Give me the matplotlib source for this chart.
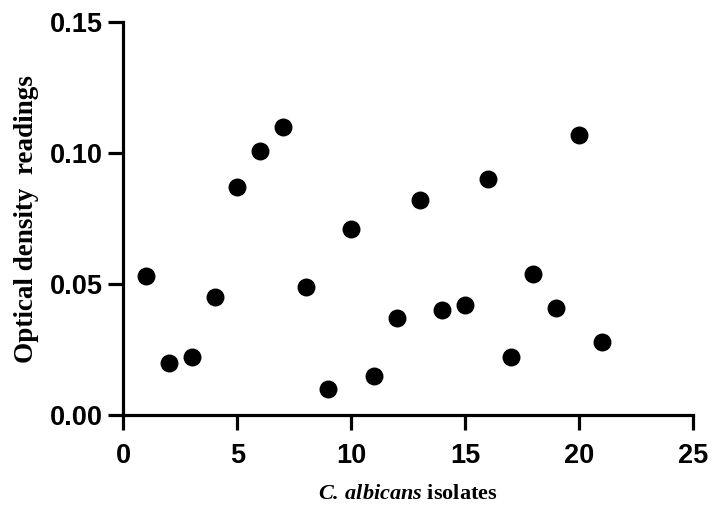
import matplotlib.pyplot as plt

plt.rcParams['mathtext.fontset'] = 'custom'
plt.rcParams['mathtext.rm'] = 'Liberation Serif:bold'
plt.rcParams['mathtext.bf'] = 'Liberation Serif:bold'
plt.rcParams['mathtext.it'] = 'Liberation Serif:italic:bold'
plt.rcParams['mathtext.bfit'] = 'Liberation Serif:italic:bold'

isolates = list(range(1, 22))
od_readings = [0.053, 0.020, 0.022, 0.045, 0.087, 0.101, 0.110, 0.049, 0.010, 0.071,
               0.015, 0.037, 0.082, 0.040, 0.042, 0.090, 0.022, 0.054, 0.041, 0.107, 0.028]

x_ticks = [0, 5, 10, 15, 20, 25]
y_ticks = [0.00, 0.05, 0.10, 0.15]

fig = plt.figure(figsize=(7.18, 5.15), dpi=100)
ax = fig.add_axes([0.172, 0.194, 0.793, 0.763])

ax.scatter(isolates, od_readings, s=142, color='black', zorder=3, clip_on=False)

ax.set_xlim(0, 25)
ax.set_ylim(0, 0.15)
ax.set_xticks(x_ticks)
ax.set_yticks(y_ticks)
ax.set_yticklabels([f"{v:.2f}" for v in y_ticks])

for side in ['top', 'right']:
    ax.spines[side].set_visible(False)
for side in ['left', 'bottom']:
    ax.spines[side].set_linewidth(2.3)

ax.tick_params(axis='both', width=2.3, length=11, labelsize=19.5)
ax.tick_params(axis='x', pad=9)
ax.tick_params(axis='y', pad=4)
for lbl in ax.get_xticklabels() + ax.get_yticklabels():
    lbl.set_fontfamily('Liberation Sans')
    lbl.set_fontweight('bold')

ax.set_xlabel(r"$\mathbfit{C.\,albicans}$ isolates", family='Liberation Serif',
              fontweight='bold', fontsize=16, labelpad=11)
ax.set_ylabel("Optical density  readings", family='Liberation Serif',
              fontweight='bold', fontsize=19.5, labelpad=8)

fig.savefig('out.png', dpi=100)
